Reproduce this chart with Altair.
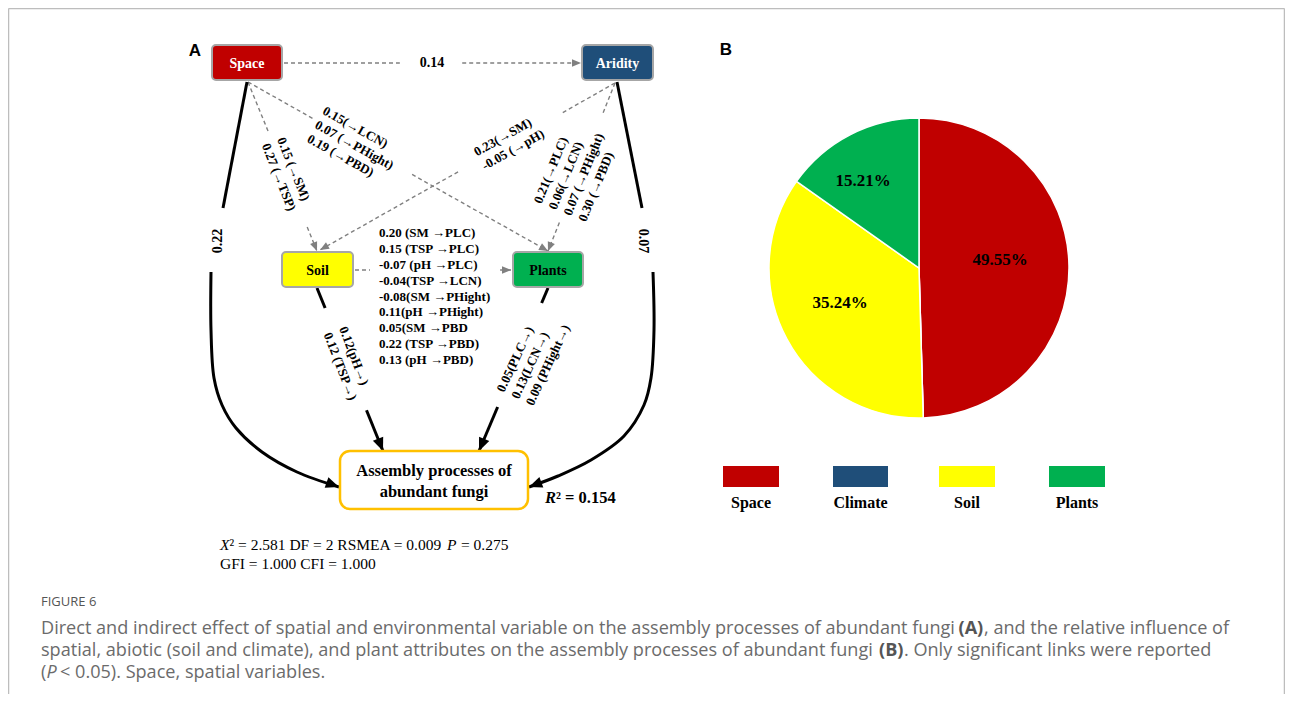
import math
import altair as alt
import pandas as pd

# ---------------- values ----------------
pie_categories = ["Space", "Climate", "Soil", "Plants"]
pie_values = [49.55, 0.0, 35.24, 15.21]
pie_labels = ["49.55%", "", "35.24%", "15.21%"]
legend_categories = ["Space", "Climate", "Soil", "Plants"]

node_names = ["Space", "Aridity", "Soil", "Plants"]
outcome_lines = ["Assembly processes of", "abundant fungi"]
r2_value = "² = 0.154"

lab_space_aridity = ["0.14"]
lab_space_plants = ["0.15(→LCN)", "0.07 (→PHight)", "0.19 (→PBD)"]
lab_space_soil = ["0.15 (→SM)", "0.27 (→TSP)"]
lab_aridity_soil = ["0.23(→SM)", "-0.05 (→pH)"]
lab_aridity_plants = ["0.21(→PLC)", "0.06(→LCN)", "0.07 (→PHight)", "0.30 (→PBD)"]
lab_soil_plants = ["0.20 (SM →PLC)", "0.15 (TSP →PLC)", "-0.07 (pH →PLC)",
                   "-0.04(TSP →LCN)", "-0.08(SM →PHight)", "0.11(pH →PHight)",
                   "0.05(SM →PBD", "0.22 (TSP →PBD)", "0.13 (pH →PBD)"]
lab_soil_outcome = ["0.12(pH→)", "0.12 (TSP→)"]
lab_plants_outcome = ["0.05(PLC→)", "0.13(LCN→)", "0.09 (PHight→)"]
lab_space_outcome = ["0.22"]
lab_aridity_outcome = ["0.07"]
fit_segments = [("X", True), ("² = 2.581 DF = 2 RSMEA = 0.009", False), ("P", True), ("= 0.275", False)]
fit_line2 = "GFI = 1.000 CFI = 1.000"

caption_title = "FIGURE 6"
caption_segments = [
    [("Direct and indirect effect of spatial and environmental variable on the assembly processes of abundant fungi", "n"),
     ("(A)", "b"), (", and the relative influence of", "n")],
    [("spatial, abiotic (soil and climate), and plant attributes on the assembly processes of abundant fungi", "n"),
     ("(B)", "b"), (". Only significant links were reported", "n")],
    [("(", "n"), ("P", "i"), (" < 0.05). Space, spatial variables.", "n")],
]

# ---------------- layout (page pixel coordinates) ----------------
node_boxes = [(212, 45, 282, 80), (582, 45, 653, 80), (282, 252, 353, 287), (513, 252, 583, 287)]
outcome_box = (340, 451, 528, 509)

dashed_edges = [
    ((284, 63), (581, 63), (0.39, 0.60)),
    ((248, 82), (548, 251), (0.217, 0.547)),
    ((248, 82), (317, 251), (0.30, 0.858)),
    ((615, 83), (320, 250), (0.186, 0.532)),
    ((615, 83), (548, 251), (0.18, 0.83)),
    ((355, 270), (511, 270), (0.096, 0.93)),
]
solid_edges = [
    ((317, 288), (383, 451), (0.123, 0.75), True),
    ((548, 288), (479, 451), (0.092, 0.73), True),
    ((247, 82), (223, 208), None, False),
    ((617, 82), (642, 208), None, False),
]
curve_left = [(211, 272), (211, 330), (214, 378), (222, 405), (236, 428), (262, 452), (297, 472), (339, 487)]
curve_right = [(653, 272), (654, 330), (651, 378), (644, 405), (624, 436), (591, 460), (558, 476), (529, 487)]

label_blocks = [
    (lab_space_aridity, (432, 63), 0, 16, "center", 14),
    (lab_space_plants, (316, 124), 29, 16, "left", 13),
    (lab_space_soil, (273, 141), 68, 16.5, "left", 13),
    (lab_aridity_soil, (479, 160), -29.5, 16, "left", 13),
    (lab_aridity_plants, (560, 212), -68, 16, "left", 13),
    (lab_soil_plants, (379, 296.5), 0, 15.9, "left", 13),
    (lab_soil_outcome, (335, 330), 69, 16.5, "left", 13),
    (lab_plants_outcome, (515, 398), -65, 16, "left", 13),
    (lab_space_outcome, (218, 241), -90, 16, "center", 14),
    (lab_aridity_outcome, (643, 241), 90, 16, "center", 14),
]
fit_x = [220, 229.5, 447, 461]
fit_y = [545, 564]

pie_center = (919, 268)
pie_label_pos = [(1000, 260), None, (840, 303), (863, 181)]
legend_rect_x = [(723, 779), (833, 888), (939, 995), (1049, 1105)]
legend_rect_y = (466, 487)
legend_label_y = 503

caption_x = [[41, 958.5, 984], [41, 879, 904], [41, 46.5, 60]]
caption_y = [629, 651, 673]
caption_title_pos = (41, 602)

W, H = 1277, 686
X0, Y0 = 8, 8

SERIF = "Liberation Serif"
SANS = "Liberation Sans"
CAP = "Open Sans"
CAP_SIZE = 18.1

color_domain = ["Space", "Climate", "Soil", "Plants", "Aridity"]
color_range = ["#C00000", "#1F4E79", "#FFFF00", "#00B050", "#1F4E79"]
cscale = alt.Scale(domain=color_domain, range=color_range)
xs = alt.Scale(domain=[X0, X0 + W], nice=False, zero=False)
ys = alt.Scale(domain=[Y0, Y0 + H], nice=False, zero=False, reverse=True)


def X(f):
    return alt.X(f, type="quantitative", scale=xs, axis=None)


def Y(f):
    return alt.Y(f, type="quantitative", scale=ys, axis=None)


def lerp(p, q, t):
    return (p[0] + (q[0] - p[0]) * t, p[1] + (q[1] - p[1]) * t)


def ang(p, q):
    return math.degrees(math.atan2(q[1] - p[1], q[0] - p[0])) % 360


def txt(rows, **kw):
    return alt.Chart(pd.DataFrame(rows)).mark_text(**kw).encode(
        x=X("x"), y=Y("y"), text="t:N")


# ---------- build tables ----------
dash_rows, solid_rows, arrow_small, arrow_big = [], [], [], []
for p0, p1, gap in dashed_edges:
    for a, b in [(0.0, gap[0]), (gap[1], 1.0)]:
        s, e = lerp(p0, p1, a), lerp(p0, p1, b)
        dash_rows.append(dict(x=s[0], y=s[1], x2=e[0], y2=e[1]))
    arrow_small.append(dict(x=p1[0], y=p1[1], ang=ang(p0, p1)))
for p0, p1, gap, arrow in solid_edges:
    parts = [(0.0, 1.0)] if gap is None else [(0.0, gap[0]), (gap[1], 1.0)]
    for a, b in parts:
        s, e = lerp(p0, p1, a), lerp(p0, p1, b)
        solid_rows.append(dict(x=s[0], y=s[1], x2=e[0], y2=e[1]))
    if arrow:
        arrow_big.append(dict(x=p1[0], y=p1[1], ang=ang(lerp(p0, p1, 0.9), p1)))
curve_rows = []
for cid, pts in enumerate([curve_left, curve_right]):
    for i, (x, y) in enumerate(pts):
        curve_rows.append(dict(x=x, y=y, i=i, c=cid))
    arrow_big.append(dict(x=pts[-1][0], y=pts[-1][1], ang=ang(pts[-2], pts[-1])))

lab_rows = []
for lines, anc, angle, lh, align, fs in label_blocks:
    a = math.radians(angle)
    px, py = -math.sin(a), math.cos(a)
    n = len(lines)
    for k, t in enumerate(lines):
        off = (k - (n - 1) / 2) * lh
        lab_rows.append(dict(x=anc[0] + px * off, y=anc[1] + py * off, t=t,
                             ang=angle % 360, al=align, fs=fs))
lab_df = pd.DataFrame(lab_rows)

node_df = pd.DataFrame(dict(
    cat=node_names,
    x=[b[0] for b in node_boxes], x2=[b[2] for b in node_boxes],
    y=[b[1] for b in node_boxes], y2=[b[3] for b in node_boxes],
    cx=[(b[0] + b[2]) / 2 for b in node_boxes], cy=[(b[1] + b[3]) / 2 + 1 for b in node_boxes],
))

layers = []
frame_df = pd.DataFrame([
    dict(x=8.5, y=8.5, x2=1284.5, y2=8.5),
    dict(x=8.5, y=8.5, x2=8.5, y2=700),
    dict(x=1284.5, y=8.5, x2=1284.5, y2=700),
])
layers.append(alt.Chart(frame_df).mark_rule(color="#BDBDBD", strokeWidth=1.5).encode(
    x=X("x"), y=Y("y"), x2=alt.X2("x2"), y2=alt.Y2("y2")))

layers.append(alt.Chart(pd.DataFrame(dash_rows)).mark_rule(
    color="#808080", strokeWidth=1.4, strokeDash=[4, 3]).encode(
    x=X("x"), y=Y("y"), x2=alt.X2("x2"), y2=alt.Y2("y2")))
layers.append(alt.Chart(pd.DataFrame(solid_rows)).mark_rule(
    color="black", strokeWidth=3).encode(
    x=X("x"), y=Y("y"), x2=alt.X2("x2"), y2=alt.Y2("y2")))
layers.append(alt.Chart(pd.DataFrame(curve_rows)).mark_line(
    color="black", strokeWidth=3, interpolate="catmull-rom").encode(
    x=X("x"), y=Y("y"), detail="c:N", order="i:Q"))
ARROW = "M0,0L-1,-0.42L-1,0.42Z"
layers.append(alt.Chart(pd.DataFrame(arrow_small)).mark_point(
    shape=ARROW, filled=True, color="#808080", opacity=1, size=324, strokeWidth=0).encode(
    x=X("x"), y=Y("y"), angle=alt.Angle("ang:Q", scale=None)))
layers.append(alt.Chart(pd.DataFrame(arrow_big)).mark_point(
    shape=ARROW, filled=True, color="black", opacity=1, size=700, strokeWidth=0).encode(
    x=X("x"), y=Y("y"), angle=alt.Angle("ang:Q", scale=None)))

layers.append(alt.Chart(node_df).mark_rect(
    cornerRadius=4, stroke="#A6A6A6", strokeWidth=2).encode(
    x=X("x"), x2=alt.X2("x2"), y=Y("y"), y2=alt.Y2("y2"),
    color=alt.Color("cat:N", scale=cscale, legend=None)))
out_df = pd.DataFrame([dict(x=outcome_box[0], x2=outcome_box[2], y=outcome_box[1], y2=outcome_box[3])])
layers.append(alt.Chart(out_df).mark_rect(
    cornerRadius=10, stroke="#FFC000", strokeWidth=2.5, fill="white").encode(
    x=X("x"), x2=alt.X2("x2"), y=Y("y"), y2=alt.Y2("y2")))
white_nodes = node_df[node_df.cat.isin(["Space", "Aridity"])]
black_nodes = node_df[~node_df.cat.isin(["Space", "Aridity"])]
for dfn, col in [(white_nodes, "white"), (black_nodes, "black")]:
    layers.append(alt.Chart(dfn).mark_text(
        font=SERIF, fontWeight="bold", fontSize=14, color=col, baseline="middle").encode(
        x=X("cx"), y=Y("cy"), text="cat:N"))
layers.append(txt(dict(t=outcome_lines, x=[434, 434], y=[471, 492]),
                  font=SERIF, fontWeight="bold", fontSize=16.5, color="black", baseline="middle"))

for al in ["left", "center"]:
    for fs in [13, 14]:
        sub = lab_df[(lab_df.al == al) & (lab_df.fs == fs)]
        if len(sub) == 0:
            continue
        layers.append(alt.Chart(sub).mark_text(
            font=SERIF, fontWeight="bold", fontSize=fs, color="black",
            align=al, baseline="middle").encode(
            x=X("x"), y=Y("y"), text="t:N", angle=alt.Angle("ang:Q", scale=None)))

layers.append(txt([dict(x=545, y=498, t="R")], font=SERIF, fontWeight="bold", fontStyle="italic",
                  fontSize=16.5, align="left", baseline="middle"))
layers.append(txt([dict(x=556, y=498, t=r2_value)], font=SERIF, fontWeight="bold",
                  fontSize=16.5, align="left", baseline="middle"))
for (t, it), x in zip(fit_segments, fit_x):
    kw = dict(fontStyle="italic") if it else {}
    layers.append(txt([dict(x=x, y=fit_y[0], t=t)], font=SERIF, fontSize=15.5, align="left",
                      baseline="middle", color="black", **kw))
layers.append(txt([dict(x=fit_x[0], y=fit_y[1], t=fit_line2)], font=SERIF, fontSize=15.5,
                  align="left", baseline="middle", color="black"))

layers.append(txt(dict(t=["A", "B"], x=[195, 726], y=[51, 50]),
                  font=SANS, fontWeight="bold", fontSize=17, align="center", baseline="middle"))

pie_df = pd.DataFrame(dict(cat=pie_categories, value=pie_values, order=list(range(4)),
                           cx=[pie_center[0]] * 4, cy=[pie_center[1]] * 4))
layers.append(alt.Chart(pie_df).mark_arc(outerRadius=150, stroke="white", strokeWidth=1.5).encode(
    theta=alt.Theta("value:Q", stack=True),
    color=alt.Color("cat:N", scale=cscale, legend=None),
    order=alt.Order("order:Q"),
    x=X("cx"), y=Y("cy")))
pl = [dict(t=t, x=p[0], y=p[1]) for t, p in zip(pie_labels, pie_label_pos) if p]
layers.append(txt(pl, font=SERIF, fontWeight="bold", fontSize=17, align="center", baseline="middle"))

leg_df = pd.DataFrame(dict(cat=legend_categories,
                           x=[a for a, b in legend_rect_x], x2=[b for a, b in legend_rect_x],
                           y=[legend_rect_y[0]] * 4, y2=[legend_rect_y[1]] * 4,
                           cx=[(a + b) / 2 for a, b in legend_rect_x], ly=[legend_label_y] * 4))
layers.append(alt.Chart(leg_df).mark_rect().encode(
    x=X("x"), x2=alt.X2("x2"), y=Y("y"), y2=alt.Y2("y2"),
    color=alt.Color("cat:N", scale=cscale, legend=None)))
layers.append(alt.Chart(leg_df).mark_text(
    font=SERIF, fontWeight="bold", fontSize=16, align="center", baseline="middle").encode(
    x=X("cx"), y=Y("ly"), text="cat:N"))

layers.append(txt([dict(t=caption_title, x=caption_title_pos[0], y=caption_title_pos[1])],
                  font=CAP, fontSize=13, color="#555555", align="left", baseline="middle"))
for segs, xsx, y in zip(caption_segments, caption_x, caption_y):
    for (t, style), x in zip(segs, xsx):
        if style == "b":
            kw = dict(fontWeight="bold", color="#555555")
        elif style == "i":
            kw = dict(fontStyle="italic", color="#6B6B6B")
        else:
            kw = dict(color="#6B6B6B")
        layers.append(txt([dict(t=t, x=x, y=y)], font=CAP, fontSize=CAP_SIZE, align="left",
                          baseline="middle", **kw))

chart = alt.layer(*layers).properties(
    width=W, height=H, padding=0,
    autosize=alt.AutoSizeParams(type="none"),
    background="white",
).configure_view(strokeWidth=0)

chart.save("out.html", embed_options={"renderer": "svg", "actions": False})
